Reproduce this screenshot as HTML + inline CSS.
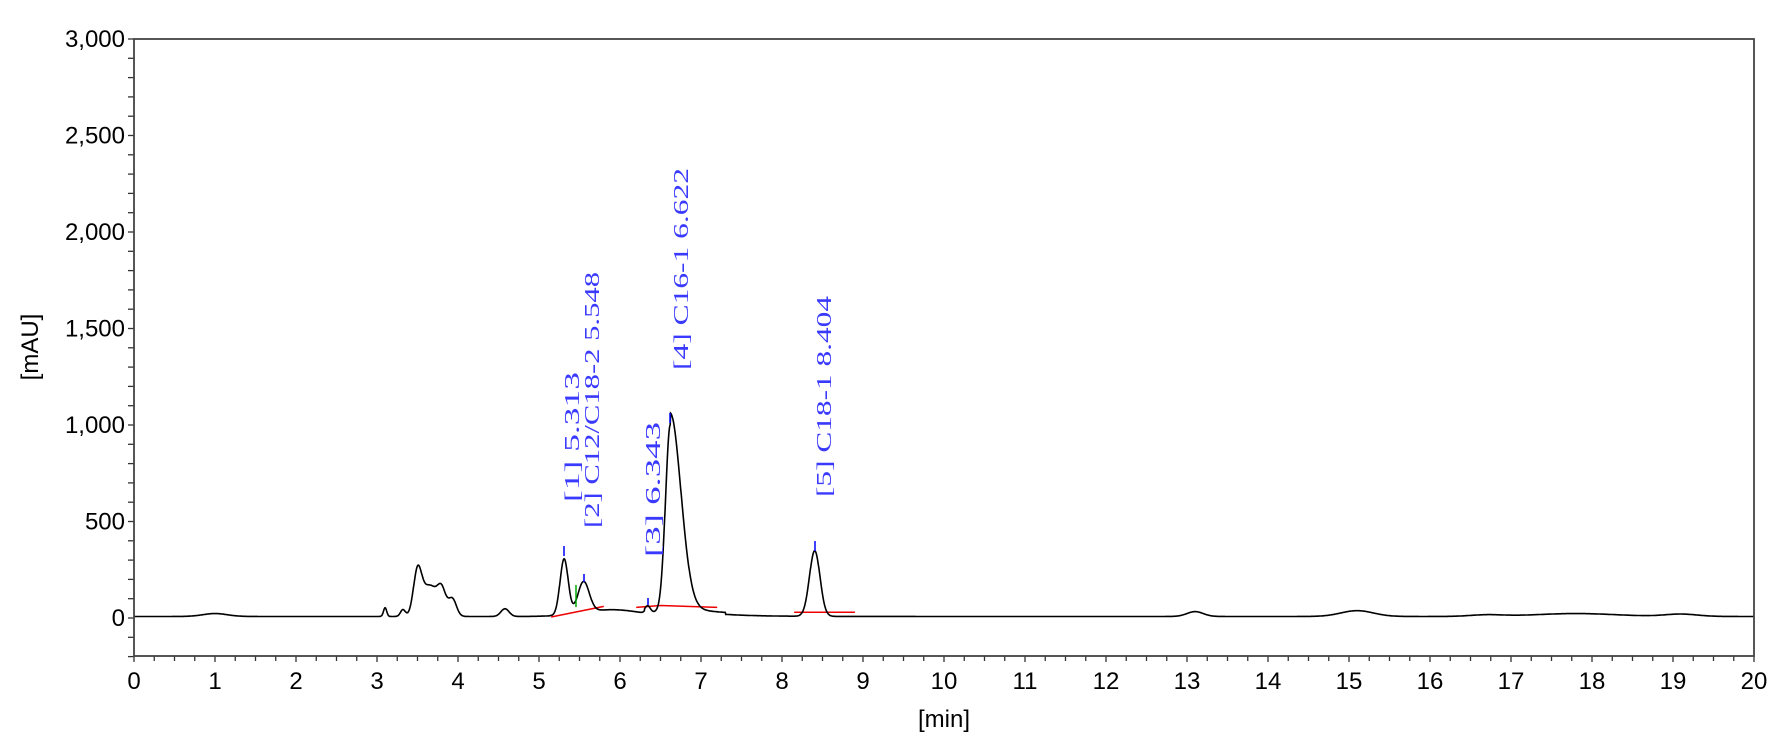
<!DOCTYPE html>
<html><head><meta charset="utf-8"><style>
html,body{margin:0;padding:0;background:#fff;}
svg{display:block;}
</style></head><body>
<svg id="s" width="1783" height="753" xmlns="http://www.w3.org/2000/svg" font-family="Liberation Sans, Arial, sans-serif">
<rect width="1783" height="753" fill="#fff"/>
<g id="ticks" stroke="#333" stroke-width="1.3"></g>
<g id="lbl" font-size="24" fill="#000"></g>
<path id="red" fill="none" stroke="#e00" stroke-width="1.5"/>
<path id="trace" fill="none" stroke="#000" stroke-width="1.6"/>
<line x1="576" y1="585" x2="576" y2="607" stroke="#0a0" stroke-width="1.5"/>
<g stroke="#00f" stroke-width="1.5">
<line x1="564" y1="546" x2="564" y2="556"/>
<line x1="584" y1="574" x2="584" y2="582"/>
<line x1="648" y1="598" x2="648" y2="605"/>
<line x1="670" y1="413" x2="670" y2="423"/>
<line x1="815" y1="541" x2="815" y2="551"/>
</g>
<rect x="134" y="39" width="1620" height="617" fill="none" stroke="#444" stroke-width="1.8"/>
<g font-family="Liberation Serif, 'Noto Serif CJK SC', serif" font-size="21" fill="#3a3aff">
<text transform="translate(579,502) rotate(-90)" textLength="130" lengthAdjust="spacingAndGlyphs">[1]  5.313</text>
<text transform="translate(599,528) rotate(-90)" textLength="256" lengthAdjust="spacingAndGlyphs">[2] C12/C18-2  5.548</text>
<text transform="translate(660,557) rotate(-90)" textLength="135" lengthAdjust="spacingAndGlyphs">[3]  6.343</text>
<text transform="translate(688,370) rotate(-90)" textLength="202" lengthAdjust="spacingAndGlyphs">[4] C16-1  6.622</text>
<text transform="translate(831,497) rotate(-90)" textLength="201" lengthAdjust="spacingAndGlyphs">[5] C18-1  8.404</text>
</g>
<text x="944" y="727" font-size="24" text-anchor="middle">[min]</text>
<text transform="translate(38,347) rotate(-90)" font-size="24" text-anchor="middle">[mAU]</text>
</svg>
<script>
var X=t=>134+81*t, Y=v=>618-0.193*v;
var tk=document.getElementById('ticks'), lb=document.getElementById('lbl'), s='';
for(var i=0;i<=80;i++){var x=X(i/4);s+='<line x1="'+x+'" y1="656" x2="'+x+'" y2="'+(i%4?661:662)+'"/>';
 if(i%4==0)lb.innerHTML+='<text x="'+x+'" y="689" text-anchor="middle">'+(i/4)+'</text>';}
for(var v=-200;v<=3000;v+=100){var y=Y(v);s+='<line x1="128" y1="'+y+'" x2="134" y2="'+y+'"/>';
 if(v%500==0&&v>=0)lb.innerHTML+='<text x="125" y="'+(y+8)+'" text-anchor="end">'+(v>=1000?Math.floor(v/1000)+','+String(v%1000).padStart(3,'0'):v)+'</text>';}
tk.innerHTML=s;
var P=[[1,15,0.15],[3.1,45,0.02],[3.32,35,0.03],[3.5,210,0.05],[3.65,160,0.1],[3.8,110,0.05],[3.93,90,0.05],[4.58,40,0.05],
[5.31,290,0.05],[5.55,160,0.07],[5.9,35,0.35],[6.343,30,0.03],[8.404,340,0.065],[13.1,25,0.1],[15.1,30,0.2],[17.8,15,0.5],[16.7,8,0.2],[19.1,12,0.2]];
function f(t){var v=8;P.forEach(p=>{v+=p[1]*Math.exp(-Math.pow((t-p[0])/p[2],2)/2)});
 var d=t-6.622, sg=d<0?0.06:0.13; v+=980*Math.exp(-d*d/(2*sg*sg)); if(d>0)v+=60*Math.exp(-d/0.4);
 if(t>6.3&&t<7.3)v+=10; return v;}
var d='';for(var t=0;t<=20;t+=0.005){d+=(t?'L':'M')+X(t).toFixed(1)+' '+Y(f(t)).toFixed(1);}
document.getElementById('trace').setAttribute('d',d);
document.getElementById('red').setAttribute('d','M'+X(5.15)+' '+Y(5)+'L'+X(5.8)+' '+Y(60)+'M'+X(6.2)+' '+Y(55)+'L'+X(6.5)+' '+Y(65)+'L'+X(7.2)+' '+Y(55)+'M'+X(8.15)+' '+Y(30)+'L'+X(8.9)+' '+Y(30));
</script>
</body></html>
